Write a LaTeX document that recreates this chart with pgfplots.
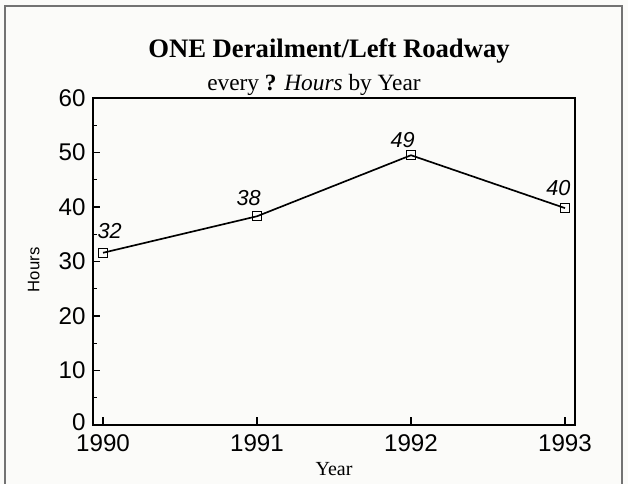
\documentclass[border=0pt]{standalone}
\usepackage{pgfplots}
\pgfplotsset{compat=1.18}
\usepackage{fontspec}
\setmainfont{Liberation Serif}
\setsansfont{Liberation Sans}
\definecolor{bg}{rgb}{0.985,0.985,0.975}
\definecolor{framec}{rgb}{0.45,0.45,0.45}
\begin{document}
\begin{tikzpicture}[x=0.6pt,y=0.6pt]
\useasboundingbox (0,0) rectangle (628,484);
\fill[bg] (0,0) rectangle (628,484);
\draw[framec, line width=0.9pt] (5,-10) -- (5,478) -- (622,478) -- (622,-10);
\node[anchor=base, font=\fontsize{16}{18}\selectfont\bfseries] at (329,426) {ONE Derailment/Left Roadway};
\node[anchor=base, font=\fontsize{14}{16}\selectfont] at (314,393) {every \textbf{?} \textit{Hours} by Year};
\begin{axis}[
  at={(93*0.6pt,59*0.6pt)}, anchor=south west,
  scale only axis, width=482*0.6pt, height=327*0.6pt,
  xmin=1989.935, xmax=1993.065, ymin=0, ymax=60,
  xtick={1990,1991,1992,1993},
  ytick={0,10,20,30,40,50,60},
  yticklabels={\raisebox{3.5pt}{0}\hspace{3pt},10,20,30,40,50,60},
  minor ytick={5,15,25,35,45,55},
  tick align=inside,
  major tick length=4.5pt, minor tick length=2.4pt,
  xtick pos=bottom, ytick pos=left,
  axis line style={line width=1pt},
  tick style={line width=0.8pt, black},
  xticklabel style={/pgf/number format/1000 sep={}, font=\fontsize{14.5}{15}\selectfont\sffamily, yshift=-2.5pt},
  yticklabel style={font=\fontsize{14.5}{15}\selectfont\sffamily, xshift=-1pt},
  /pgf/number format/assume math mode=true,
  xlabel={Year}, xlabel style={font=\fontsize{12}{13}\selectfont, yshift=1pt},
  ylabel={Hours}, ylabel style={font=\fontsize{10}{11}\selectfont\sffamily, yshift=4.5pt, xshift=-5pt},
  axis background/.style={fill=bg},
  clip=false,
]
\addplot[black, line width=1pt, mark=square, mark size=2.8pt, mark options={line width=0.6pt, fill=bg},
  nodes near coords, point meta=explicit symbolic,
  visualization depends on={\thisrow{dx} \as \dx},
  visualization depends on={\thisrow{dy} \as \dy},
  nodes near coords style={anchor=south, font=\fontsize{13}{14}\selectfont\sffamily\itshape, xshift=\dx pt, yshift=\dy pt}]
  table[x=x, y=y, meta=lab] {
x y lab dx dy
1990 31.6 32 4 5
1991 38.3 38 -5 3
1992 49.5 49 -5 0.8
1993 39.8 40 -4 4
};
\end{axis}
\end{tikzpicture}
\end{document}
